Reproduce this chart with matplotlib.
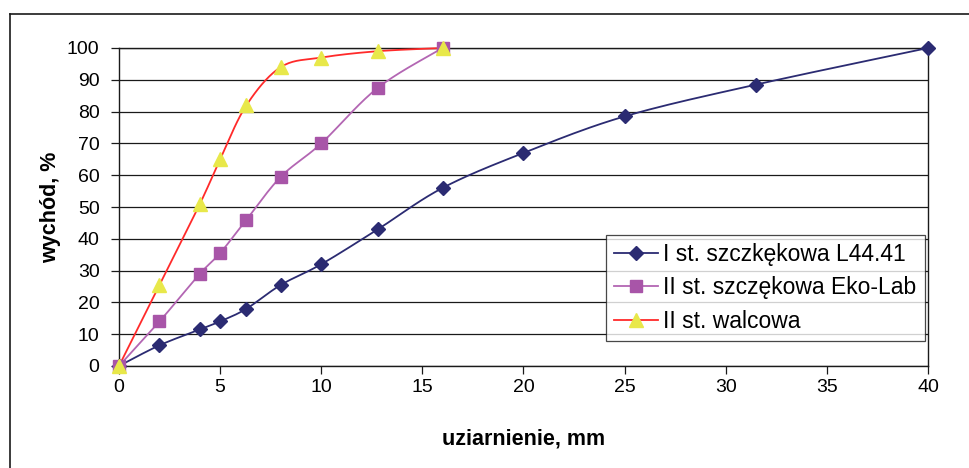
import numpy as np
import matplotlib.pyplot as plt
from matplotlib.lines import Line2D

plt.rcParams['font.family'] = ['Liberation Sans', 'DejaVu Sans']

# grain size (mm) and cumulative yield (%)
x_szczek = [0, 2, 4, 5, 6.3, 8, 10, 12.8, 16, 20, 25, 31.5, 40]
y_szczek = [0, 6.5, 11.5, 14, 18, 25.5, 32, 43, 56, 67, 78.5, 88.5, 100]

x_ekolab = [0, 2, 4, 5, 6.3, 8, 10, 12.8, 16]
y_ekolab = [0, 14, 29, 35.5, 46, 59.5, 70, 87.5, 100]

x_walc = [0, 2, 4, 5, 6.3, 8, 10, 12.8, 16]
y_walc = [0, 25.5, 51, 65, 82, 94, 97, 99, 100]

labels = ['I st. szczkękowa L44.41', 'II st. szczękowa Eko-Lab', 'II st. walcowa']
x_ticks = [0, 5, 10, 15, 20, 25, 30, 35, 40]
y_ticks = [0, 10, 20, 30, 40, 50, 60, 70, 80, 90, 100]


def smooth(ax, xs, ys, n=20):
    """Bezier smoothing done in screen space, like a spreadsheet's smoothed line."""
    pts = ax.transData.transform(np.column_stack([xs, ys]))
    p = np.vstack([pts[0], pts, pts[-1]])
    t = np.linspace(0, 1, n)[:, None]
    out = []
    for i in range(1, len(p) - 2):
        p0, p1, p2, p3 = p[i - 1], p[i], p[i + 1], p[i + 2]
        c1 = p1 + (p2 - p0) / 6
        c2 = p2 - (p3 - p1) / 6
        seg = ((1 - t) ** 3) * p1 + 3 * ((1 - t) ** 2) * t * c1 \
            + 3 * (1 - t) * t ** 2 * c2 + t ** 3 * p2
        out.append(seg)
    out = np.vstack(out)
    d = ax.transData.inverted().transform(out)
    return d[:, 0], d[:, 1]


fig = plt.figure(figsize=(9.7, 4.68), dpi=100)
ax = fig.add_axes([119 / 970, 102 / 468, 809 / 970, 318 / 468])
ax.set_xlim(0, 40)
ax.set_ylim(0, 100)

ax.set_xticks(x_ticks)
ax.set_yticks(y_ticks)
ax.yaxis.grid(True, color='#1a1a1a', linewidth=0.9)
ax.set_axisbelow(True)
for s in ax.spines.values():
    s.set_color('#1a1a1a')
    s.set_linewidth(1.0)
ax.tick_params(direction='out', length=6, width=0.9, color='#1a1a1a',
               labelsize=14)
ax.tick_params(axis='y', pad=8)
ax.tick_params(axis='x', pad=3)

series = [
    (x_szczek, y_szczek, '#2b2b72', 'D', '#2b2b72', '#2b2b72', 7.5),
    (x_ekolab, y_ekolab, '#b366b3', 's', '#a855a8', '#a855a8', 9),
    (x_walc, y_walc, '#ff2a2a', '^', '#e8e84a', '#e8e84a', 10),
]
handles = []
for (xs, ys, lc, mk, mfc, mec, ms), lab in zip(series, labels):
    sx, sy = smooth(ax, xs, ys)
    ax.plot(sx, sy, color=lc, linewidth=1.3, zorder=3, clip_on=False)
    ax.plot(xs, ys, linestyle='none', marker=mk, markersize=ms,
            markerfacecolor=mfc, markeredgecolor=mec, zorder=4, clip_on=False)
    handles.append(Line2D([0], [0], color=lc, linewidth=1.3, marker=mk,
                          markersize=ms, markerfacecolor=mfc, markeredgecolor=mec))

leg = ax.legend(handles, labels, loc='upper left',
                bbox_to_anchor=(487 / 809, 131 / 318), fontsize=16.5,
                frameon=True, fancybox=False, edgecolor='#1a1a1a',
                handlelength=1.9, handletextpad=0.25, borderpad=0.35,
                labelspacing=0.45, borderaxespad=0)
leg.get_frame().set_linewidth(0.9)

ax.set_xlabel('uziarnienie, mm', fontsize=15.5, fontweight='bold', labelpad=24)
ax.set_ylabel('wychód, %', fontsize=15.5, fontweight='bold', labelpad=4)

# outer frame around the chart
fig.add_artist(Line2D([10 / 970, 10 / 970], [0, 454 / 468],
                      transform=fig.transFigure, color='#1a1a1a', linewidth=1.2))
fig.add_artist(Line2D([10 / 970, 1], [454 / 468, 454 / 468],
                      transform=fig.transFigure, color='#1a1a1a', linewidth=1.2))

fig.savefig('out.png', dpi=100)
